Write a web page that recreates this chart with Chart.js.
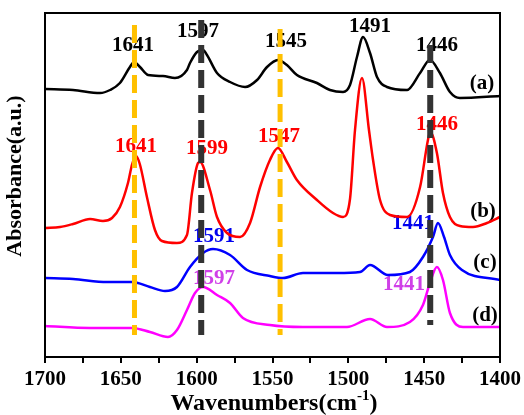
<!DOCTYPE html>
<html><head><meta charset="utf-8">
<script src="https://cdn.jsdelivr.net/npm/chart.js@4.4.0/dist/chart.umd.min.js"></script>
<style>html,body{margin:0;padding:0;background:#fff}#wrap{width:524px;height:415px}</style>
</head><body><div id="wrap"><canvas id="c" width="524" height="415"></canvas></div>
<script>
// ---- data (wavenumber in cm-1, absorbance offset in a.u.) ----
const waveA = [1700,1681.5,1663.7,1657.1,1650.6,1644.0,1641.3,1637.4,1632.1,1622.2,1614.3,1606.4,1604.4,1599.8,1595.8,1593.2,1586.6,1578.0,1568.1,1560.2,1553.6,1546.4,1540.5,1533.9,1520.7,1512.1,1503.5,1498.9,1494.3,1490.3,1485.7,1481.1,1474.5,1461.3,1452.7,1446.2,1439.6,1433.0,1426.4,1400];
const absA  = [2.68,2.67,2.64,2.67,2.74,2.90,2.95,2.90,2.82,2.81,2.79,2.87,2.94,3.05,3.07,3.02,2.84,2.75,2.70,2.77,2.90,2.97,2.92,2.82,2.74,2.67,2.65,2.72,3.00,3.20,3.04,2.80,2.70,2.67,2.84,2.97,2.84,2.65,2.59,2.61];
const waveB = [1700,1690.1,1681.5,1670.3,1661.8,1655.8,1650.6,1645.3,1642.5,1640.0,1637.5,1632.8,1627.5,1622.9,1613.0,1606.4,1603.1,1599.1,1597.8,1591.2,1586.6,1580.0,1571.4,1564.8,1558.2,1551.7,1546.4,1540.5,1533.9,1520.7,1510.1,1503.5,1498.9,1495.6,1491.0,1486.4,1483.7,1479.1,1472.5,1461.3,1452.7,1447.5,1446.0,1441.6,1437.6,1433.0,1426.4,1417.8,1408.6,1400];
const absB  = [1.29,1.30,1.33,1.38,1.36,1.39,1.50,1.74,1.93,2.01,1.93,1.60,1.27,1.16,1.14,1.22,1.64,1.94,1.95,1.67,1.40,1.24,1.20,1.34,1.70,1.97,2.09,1.95,1.77,1.57,1.44,1.40,1.58,2.27,2.79,2.27,1.97,1.57,1.42,1.40,1.70,2.17,2.25,2.04,1.64,1.40,1.31,1.30,1.34,1.40];
const waveC = [1700,1681.5,1659.1,1642.6,1630.8,1620.9,1613.0,1604.4,1595.8,1589.2,1578.0,1566.8,1551.7,1543.1,1529.9,1507.5,1492.3,1485.7,1473.9,1459.4,1450.8,1444.2,1440.9,1436.9,1433.0,1425.1,1400];
const absC  = [0.79,0.78,0.75,0.75,0.70,0.66,0.70,0.90,1.04,1.08,1.02,0.87,0.81,0.79,0.84,0.84,0.85,0.92,0.82,0.85,1.00,1.20,1.34,1.20,1.02,0.87,0.77];
const waveD = [1700,1670.3,1642.6,1630.8,1618.9,1613.0,1606.4,1601.1,1595.8,1586.6,1578.0,1569.5,1551.7,1529.9,1500.9,1485.7,1474.5,1459.4,1450.8,1446.2,1441.6,1437.6,1433.0,1424.4,1400];
const absD  = [0.31,0.29,0.29,0.25,0.20,0.27,0.47,0.64,0.70,0.62,0.54,0.39,0.32,0.30,0.30,0.38,0.30,0.35,0.52,0.74,0.90,0.77,0.44,0.30,0.30];

// vertical reference lines
const refWave   = [1641, 1597, 1545, 1446];
const refTop    = [3.32, 3.37, 3.28, 3.12];
const refBottom = [0.22, 0.22, 0.22, 0.32];

// peak annotations: text, wavenumber position, absorbance position, series
const peakText   = ['1641','1597','1545','1491','1446','1641','1599','1547','1446','1591','1441','1597','1441'];
const peakWave   = [1642.0,1599.1,1541.1,1485.7,1441.6,1640.0,1593.2,1545.7,1441.6,1588.6,1457.4,1588.6,1463.3];
const peakAbs    = [3.11,3.25,3.15,3.30,3.11,2.10,2.08,2.20,2.32,1.20,1.33,0.78,0.72];
const peakSeries = [0,0,0,0,0,1,1,1,1,2,2,3,3];

const curveText = ['(a)','(b)','(c)','(d)'];
const curveWave = [1411.9,1411.2,1409.9,1409.9];
const curveAbs  = [2.73,1.45,0.94,0.41];

const xTicks = [1700,1650,1600,1550,1500,1450,1400];

// ---- styles ----
const lineColors = ['#000000','#FF0000','#0000FF','#FF00FF'];
const textColors = ['#000000','#FF0000','#0000EE','#D040E8'];
const refColors  = ['#FFC000','#333333','#FFC000','#333333'];
const refWidths  = [5,6,5,6];
const FONT = '"Liberation Serif","Times New Roman",serif';

const pts = (w,a)=>w.map((x,i)=>({x:x,y:a[i]}));
const datasets = [];
[[waveA,absA],[waveB,absB],[waveC,absC],[waveD,absD]].forEach((s,i)=>{
  datasets.push({data:pts(s[0],s[1]),borderColor:lineColors[i],borderWidth:2.5,pointRadius:0,
    cubicInterpolationMode:'monotone',fill:false,order:2});
});
refWave.forEach((w,i)=>{
  datasets.push({data:[{x:w,y:refTop[i]},{x:w,y:refBottom[i]}],borderColor:refColors[i],borderWidth:refWidths[i],
    borderDash:[18,7],pointRadius:0,tension:0,fill:false,order:1,borderCapStyle:'butt'});
});

const textPlugin = {
  id:'texts',
  beforeDatasetsDraw(chart){
    const ctx=chart.ctx, xs=chart.scales.x, ys=chart.scales.y;
    ctx.save();
    ctx.font='bold 21px '+FONT;
    ctx.textAlign='center'; ctx.textBaseline='middle';
    peakText.forEach((t,i)=>{
      ctx.fillStyle=textColors[peakSeries[i]];
      ctx.fillText(t, xs.getPixelForValue(peakWave[i]), ys.getPixelForValue(peakAbs[i]));
    });
    ctx.fillStyle='#000';
    curveText.forEach((t,i)=>{
      ctx.fillText(t, xs.getPixelForValue(curveWave[i]), ys.getPixelForValue(curveAbs[i]));
    });
    ctx.restore();
  },
  afterDraw(chart){
    const ctx=chart.ctx, a=chart.chartArea;
    ctx.save();
    ctx.strokeStyle='#000'; ctx.lineWidth=2;
    ctx.strokeRect(a.left, a.top, a.right-a.left, a.bottom-a.top);
    // axis titles
    ctx.fillStyle='#000';
    ctx.textBaseline='alphabetic';
    const main='Wavenumbers(cm', sup='-1', close=')';
    ctx.font='bold 24px '+FONT; const w1=ctx.measureText(main).width, w3=ctx.measureText(close).width;
    ctx.font='bold 15px '+FONT; const w2=ctx.measureText(sup).width;
    let x=274 - (w1+w2+w3)/2, y=410;
    ctx.textAlign='left';
    ctx.font='bold 24px '+FONT; ctx.fillText(main,x,y); x+=w1;
    ctx.font='bold 15px '+FONT; ctx.fillText(sup,x,y-10); x+=w2;
    ctx.font='bold 24px '+FONT; ctx.fillText(close,x,y);
    ctx.translate(15,176); ctx.rotate(-Math.PI/2);
    ctx.textAlign='center'; ctx.textBaseline='middle';
    ctx.font='bold 22px '+FONT;
    ctx.fillText('Absorbance(a.u.)',0,0);
    ctx.restore();
  }
};

new Chart(document.getElementById('c'),{
  type:'line',
  data:{datasets:datasets},
  options:{
    responsive:false, animation:false, devicePixelRatio:1,
    layout:{padding:{left:0,right:24,top:13,bottom:0}},
    plugins:{legend:{display:false},tooltip:{enabled:false}},
    scales:{
      x:{type:'linear',reverse:true,min:1400,max:1700,
        afterFit(s){s.height=58;},
        afterBuildTicks(s){const t=[];for(let v=1400;v<=1700;v+=25)t.push({value:v});s.ticks=t;},
        ticks:{color:'#000',font:{family:FONT,size:21,weight:'bold'},padding:4,maxRotation:0,autoSkip:false,
          callback:(v)=>xTicks.includes(v)?String(v):''},
        grid:{display:true,drawOnChartArea:false,drawTicks:true,tickLength:6,color:'#000',lineWidth:2},
        border:{display:true,color:'#000',width:2}},
      y:{type:'linear',min:0,max:3.44,
        afterFit(s){s.width=45;},
        ticks:{display:false},
        grid:{display:false},
        border:{display:true,color:'#000',width:2}}
    }
  },
  plugins:[textPlugin]
});
</script></body></html>
